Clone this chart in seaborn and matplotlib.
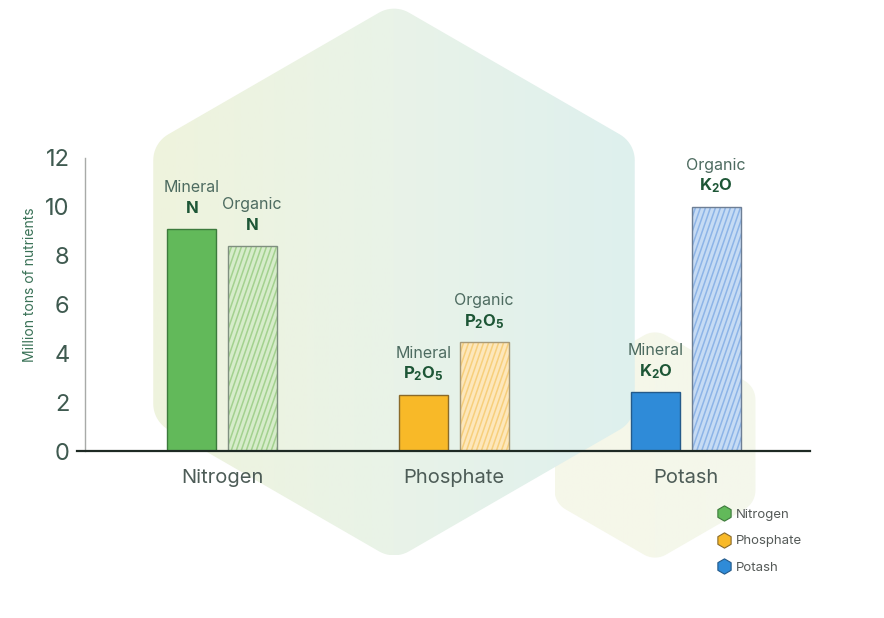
import numpy as np
import pandas as pd
import matplotlib
matplotlib.use("Agg")
import matplotlib.pyplot as plt
from matplotlib.patches import Polygon, Rectangle
from matplotlib.lines import Line2D
from matplotlib.collections import LineCollection
from matplotlib.transforms import IdentityTransform
import seaborn as sns

# ---- data -------------------------------------------------------------
nutrients = ["Nitrogen", "Phosphate", "Potash"]
sources = ["Mineral", "Organic"]
mineral_values = [9.1, 2.3, 2.4]
organic_values = [8.4, 4.45, 10.0]
formulas = [r"$\mathbf{N}$", r"$\mathbf{P_2O_5}$", r"$\mathbf{K_2O}$"]
y_ticks = [0, 2, 4, 6, 8, 10, 12]
y_label = "Million tons of nutrients"

# ---- style ------------------------------------------------------------
sns.set_theme(style="white")
FONT = "Inter"
plt.rcParams["font.family"] = [FONT, "DejaVu Sans"]
plt.rcParams["mathtext.fontset"] = "custom"
plt.rcParams["mathtext.rm"] = FONT
plt.rcParams["mathtext.bf"] = f"{FONT}:bold"

solid_colors = {"Nitrogen": "#62b95a", "Phosphate": "#f8b928", "Potash": "#2f8bd8"}
solid_edges = {"Nitrogen": "#3c7a3c", "Phosphate": "#8a6a2a", "Potash": "#245a8a"}
light_colors = {"Nitrogen": "#d6ecca", "Phosphate": "#fde7bb", "Potash": "#c6dbf4"}
stripe_colors = {"Nitrogen": "#a3d18f", "Phosphate": "#f7cf7c", "Potash": "#8db4e7"}
light_edges = {"Nitrogen": "#7f8f80", "Phosphate": "#a89a78", "Potash": "#6e7f95"}

W, H = 884, 618
fig = plt.figure(figsize=(W / 100, H / 100), dpi=100)
fig.patch.set_facecolor("white")

# ---- decorative background hexagons -----------------------------------
bg = fig.add_axes([0, 0, 1, 1])
bg.set_xlim(0, W)
bg.set_ylim(H, 0)
bg.axis("off")
bg.set_zorder(0)


def rounded_hexagon(cx, cy, R, r, n=12):
    """Pointy-top hexagon of circumradius R with corners rounded by radius r."""
    Ri = R - r / np.cos(np.pi / 6)
    pts = []
    for k in range(6):
        a = np.deg2rad(-90 + 60 * k)
        vx, vy = cx + Ri * np.cos(a), cy + Ri * np.sin(a)
        for t in np.linspace(a - np.pi / 6, a + np.pi / 6, n):
            pts.append((vx + r * np.cos(t), vy + r * np.sin(t)))
    return np.array(pts)


def gradient_hexagon(cx, cy, R, r, colors, z):
    pts = rounded_hexagon(cx, cy, R, r)
    poly = Polygon(pts, closed=True, facecolor="none", edgecolor="none")
    bg.add_patch(poly)
    cols = np.array(colors, dtype=float) / 255.0
    xs = np.linspace(0, 1, 256)
    grad = np.empty((1, 256, 3))
    pos = np.linspace(0, 1, len(cols))
    for c in range(3):
        grad[0, :, c] = np.interp(xs, pos, cols[:, c])
    x0, x1 = pts[:, 0].min(), pts[:, 0].max()
    y0, y1 = pts[:, 1].min(), pts[:, 1].max()
    im = bg.imshow(grad, extent=(x0, x1, y1, y0), aspect="auto",
                   interpolation="bilinear", zorder=z)
    im.set_clip_path(poly)


gradient_hexagon(655, 445, 116, 22,
                 [(246, 247, 233), (245, 247, 234), (244, 247, 236)], 1)
gradient_hexagon(394, 282, 278, 30,
                 [(239, 243, 221), (233, 243, 232), (222, 240, 238)], 2)

# ---- bar chart ----------------------------------------------------------
ax_left, ax_right = 77, 810
ax_bottom, ax_top = 451, 158
ax = fig.add_axes([ax_left / W, 1 - ax_bottom / H,
                   (ax_right - ax_left) / W, (ax_bottom - ax_top) / H])
ax.set_zorder(1)
ax.patch.set_alpha(0)

df = pd.DataFrame({
    "nutrient": nutrients * 2,
    "source": [sources[0]] * 3 + [sources[1]] * 3,
    "value": mineral_values + organic_values,
})

sns.barplot(data=df, x="nutrient", y="value", hue="source",
            order=nutrients, hue_order=sources, width=0.52, gap=0.19,
            errorbar=None, saturation=1, legend=False, ax=ax)

# axes limits first so the stripe geometry can be computed in pixels
ax.set_xlim((ax_left - 222) / 232, (ax_right - 222) / 232)
ax.set_ylim(0, 12)

mineral_bars = ax.containers[0]
organic_bars = ax.containers[1]

for name, p in zip(nutrients, mineral_bars):
    p.set_facecolor(solid_colors[name])
    p.set_edgecolor(solid_edges[name])
    p.set_linewidth(1.0)

# organic bars: pale fill with steep diagonal stripes clipped to the bar
slope = 1 / np.tan(np.deg2rad(71))
for name, p in zip(nutrients, organic_bars):
    p.set_facecolor(light_colors[name])
    p.set_linewidth(0)
    (x0, y0), (x1, y1) = ax.transData.transform(
        [(p.get_x(), 0), (p.get_x() + p.get_width(), p.get_height())])
    h = y1 - y0
    starts = np.arange(x0 - h * slope - 6, x1 + 6, 5.0)
    segs = [[(s, y0), (s + h * slope, y1)] for s in starts]
    lc = LineCollection(segs, colors=stripe_colors[name], linewidths=1.1,
                        transform=IdentityTransform(), zorder=p.get_zorder() + 0.05)
    ax.add_collection(lc, autolim=False)
    lc.set_clip_path(p)
    ax.add_patch(Rectangle(p.get_xy(), p.get_width(), p.get_height(),
                           fill=False, edgecolor=light_edges[name],
                           linewidth=1.0, zorder=p.get_zorder() + 0.1))

# labels above each bar
word_color = "#4d6b60"
formula_color = "#1d5636"
for container, src in ((mineral_bars, "Mineral"), (organic_bars, "Organic")):
    for p, f in zip(container, formulas):
        xc = p.get_x() + p.get_width() / 2
        top = p.get_height()
        ax.annotate(f, (xc, top), xytext=(0, 15), textcoords="offset points",
                    ha="center", va="center", fontsize=12,
                    color=formula_color, annotation_clip=False)
        ax.annotate(src, (xc, top), xytext=(0, 30), textcoords="offset points",
                    ha="center", va="center", fontsize=11.5,
                    color=word_color, annotation_clip=False)

# axes styling
ax.set_yticks(y_ticks)
ax.set_yticklabels([str(t) for t in y_ticks])
for s in ("top", "right"):
    ax.spines[s].set_visible(False)
ax.spines["left"].set_position(("data", (85 - 222) / 232))
ax.spines["left"].set_bounds(0, 12)
ax.spines["left"].set_color("#a8aaa8")
ax.spines["left"].set_linewidth(1.0)
ax.spines["bottom"].set_color("#1e2a24")
ax.spines["bottom"].set_linewidth(1.6)
ax.tick_params(axis="y", length=6, width=1.0, color="#a8aaa8",
               labelsize=17, labelcolor="#3f5a50", pad=5, direction="out")
ax.tick_params(axis="x", length=0, labelsize=14.5, labelcolor="#4d5c57", pad=13)
ax.set_xlabel("")
ax.set_ylabel(y_label, fontsize=10, color="#3a7257")
ax.yaxis.set_label_coords(-0.054, 0.567)

# legend with hexagon markers
handles = [Line2D([], [], linestyle="none", marker="h", markersize=11,
                  markerfacecolor=solid_colors[n], markeredgecolor=solid_edges[n],
                  markeredgewidth=0.8, label=n) for n in nutrients]
leg = fig.legend(handles=handles, loc="upper left",
                 bbox_to_anchor=(711 / W, 1 - 503 / H), frameon=False,
                 fontsize=9.5, labelcolor="#555a58", handletextpad=0.25,
                 labelspacing=1.1, handlelength=1.2, borderaxespad=0)

fig.savefig("out.png", dpi=100, facecolor="white")
